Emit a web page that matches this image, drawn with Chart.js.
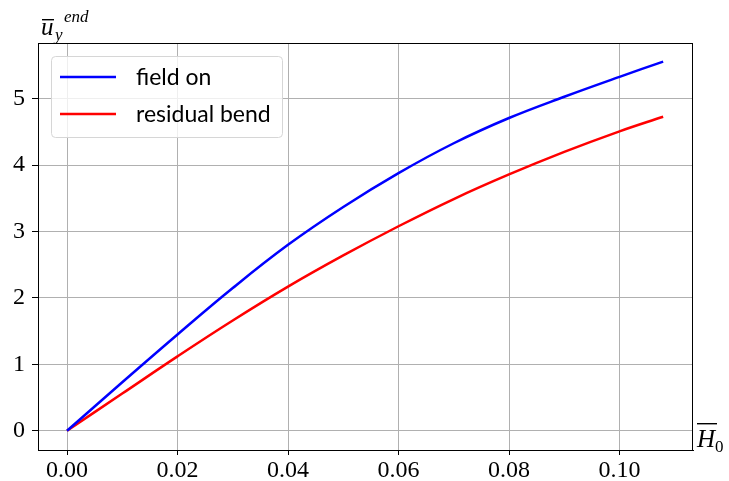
<!DOCTYPE html>
<html>
<head>
<meta charset="utf-8">
<script src="https://cdn.jsdelivr.net/npm/chart.js@4.4.1/dist/chart.umd.min.js"></script>
<style>
  html, body { margin: 0; padding: 0; background: #fff; }
  canvas { display: block; }
</style>
</head>
<body>
<canvas id="bendChart" width="729" height="481"></canvas>
<script>
const hValues = [0, 0.01, 0.02, 0.03, 0.04, 0.05, 0.06, 0.07, 0.08, 0.09, 0.10, 0.1079];
const fieldOn = [0, 0.73, 1.45, 2.15, 2.80, 3.37, 3.88, 4.33, 4.71, 5.03, 5.33, 5.56];
const residualBend = [0, 0.56, 1.12, 1.66, 2.17, 2.64, 3.08, 3.49, 3.86, 4.20, 4.51, 4.73];
const xTicks = [0, 0.02, 0.04, 0.06, 0.08, 0.10];
const yTicks = [0, 1, 2, 3, 4, 5];
const seriesNames = ["field on", "residual bend"];

const serif = "'Liberation Serif', 'DejaVu Serif', serif";
const sans = "Lato, 'DejaVu Sans', sans-serif";

const toPoints = (ys) => hValues.map((x, i) => ({ x: x, y: ys[i] }));

// box round plot + legend in upper left + axis labels
const decorations = {
    id: "decorations",
    afterDatasetsDraw(chart) {
        const ctx = chart.ctx;
        const area = chart.chartArea;
        ctx.save();

        ctx.strokeStyle = "#000";
        ctx.lineWidth = 1;
        ctx.strokeRect(area.left + 0.5, area.top + 0.5, area.right - area.left - 1, area.bottom - area.top);

        // legend
        const bx = area.left + 13, by = area.top + 13, bw = 231, bh = 81;
        ctx.beginPath();
        ctx.roundRect(bx + 0.5, by + 0.5, bw, bh, 4);
        ctx.fillStyle = "rgba(255,255,255,0.8)";
        ctx.fill();
        ctx.strokeStyle = "#d6d6d6";
        ctx.stroke();
        ctx.font = "23px " + sans;
        ctx.textBaseline = "middle";
        chart.data.datasets.forEach((ds, i) => {
            const y = by + 21 + i * 37;
            ctx.strokeStyle = ds.borderColor;
            ctx.lineWidth = 2.5;
            ctx.beginPath();
            ctx.moveTo(bx + 9, y);
            ctx.lineTo(bx + 65, y);
            ctx.stroke();
            ctx.fillStyle = "#000";
            ctx.fillText(ds.label, bx + 85, y + 1);
        });

        // y label: u-bar, subscript y, superscript end
        ctx.fillStyle = "#000";
        ctx.textBaseline = "alphabetic";
        ctx.font = "italic 25px " + serif;
        ctx.fillText("u", 41, 35);
        ctx.fillRect(42, 19, 12, 1.4);
        ctx.font = "italic 17px " + serif;
        ctx.fillText("y", 55, 40);
        ctx.fillText("end", 64, 22);

        // x label: H-bar with subscript 0
        ctx.font = "italic 25px " + serif;
        ctx.fillText("H", 697, 447);
        ctx.fillRect(697, 423, 20, 1.4);
        ctx.font = "17px " + serif;
        ctx.fillText("0", 715, 452);

        ctx.restore();
    }
};

new Chart(document.getElementById("bendChart"), {
    type: "line",
    data: {
        datasets: [{
            label: seriesNames[0],
            data: toPoints(fieldOn),
            borderColor: "#0000ff",
            borderWidth: 2.5,
            pointRadius: 0,
            tension: 0.4,
            fill: false
        }, {
            label: seriesNames[1],
            data: toPoints(residualBend),
            borderColor: "#ff0000",
            borderWidth: 2.5,
            pointRadius: 0,
            tension: 0.4,
            fill: false
        }]
    },
    options: {
        responsive: false,
        animation: false,
        layout: {
            padding: { top: 43, right: 36, left: 0, bottom: 0 }
        },
        plugins: {
            legend: { display: false },
            tooltip: { enabled: false }
        },
        scales: {
            x: {
                type: "linear",
                min: -0.00525,
                max: 0.1133,
                afterBuildTicks: (scale) => { scale.ticks = xTicks.map(v => ({ value: v })); },
                afterFit: (scale) => { scale.height = 31; },
                ticks: {
                    font: { family: serif, size: 24 },
                    color: "#000",
                    padding: 1,
                    maxRotation: 0,
                    callback: (v) => Number(v).toFixed(2)
                },
                grid: {
                    color: "#b0b0b0",
                    lineWidth: 1,
                    tickColor: "#000",
                    tickLength: 5
                },
                border: { color: "#000", width: 1 }
            },
            y: {
                min: -0.29,
                max: 5.84,
                afterBuildTicks: (scale) => { scale.ticks = yTicks.map(v => ({ value: v })); },
                afterFit: (scale) => { scale.width = 38; },
                ticks: {
                    font: { family: serif, size: 24 },
                    color: "#000",
                    padding: 7,
                    callback: (v) => String(v)
                },
                grid: {
                    color: "#b0b0b0",
                    lineWidth: 1,
                    tickColor: "#000",
                    tickLength: 6
                },
                border: { color: "#000", width: 1 }
            }
        }
    },
    plugins: [decorations]
});
</script>
</body>
</html>
